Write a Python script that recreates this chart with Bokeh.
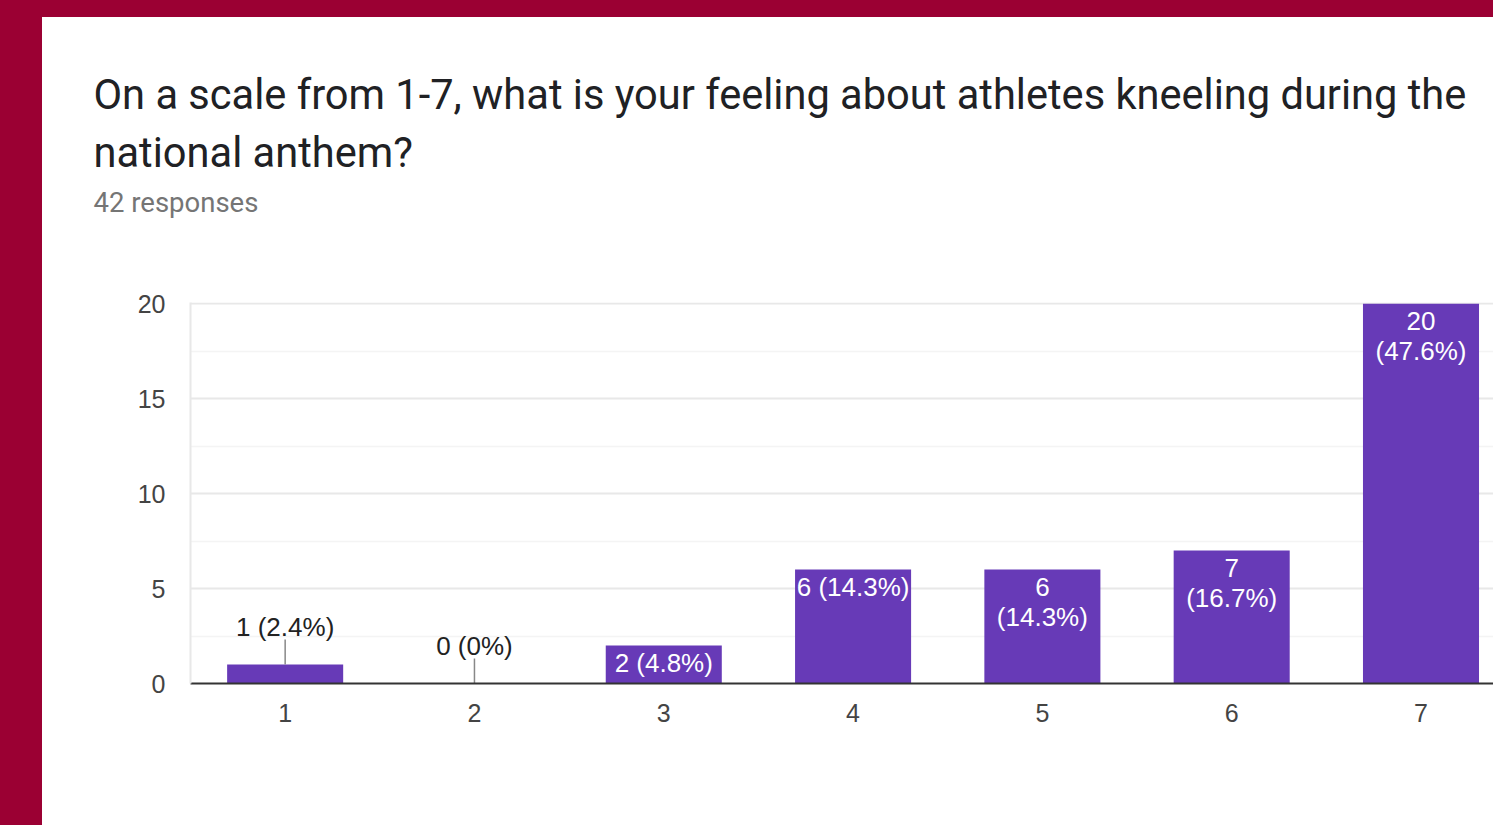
from bokeh.plotting import figure
from bokeh.models import Range1d, FixedTicker, Title, ColumnDataSource
from bokeh.core.properties import value
from bokeh.embed import file_html
from bokeh.resources import INLINE

# ---- data ----
categories = ["1", "2", "3", "4", "5", "6", "7"]
counts = [1, 0, 2, 6, 6, 7, 20]
percents = ["2.4%", "0%", "4.8%", "14.3%", "14.3%", "16.7%", "47.6%"]
placement = ["above", "above", "inside", "inside", "wrap", "wrap", "wrap"]
y_ticks = [0, 5, 10, 15, 20]
title_line1 = "On a scale from 1-7, what is your feeling about athletes kneeling during the"
title_line2 = "national anthem?"
subtitle = "42 responses"

BAR = "#673ab7"
FRAME_H = 381  # px of plot frame height
PX_PER_UNIT = FRAME_H / 20.0

xs = list(range(1, len(categories) + 1))

p = figure(width=1451, height=808, x_range=Range1d(0.5, 7.383), y_range=Range1d(0, 20.06),
           output_backend="svg", toolbar_location=None,
           min_border_left=148, min_border_right=0, min_border_bottom=142, min_border_top=285,
           outline_line_color=None, border_fill_color="white", background_fill_color="white")
p.margin = (17, 0, 0, 42)
p.styles = {"background-color": "white"}

# titles (outermost = p.title; added ones stack from the plot outward)
p.title.text = title_line1
p.title.text_font = "Roboto"
p.title.text_font_size = "41.6px"
p.title.text_font_style = "normal"
p.title.text_color = "#202124"
p.title.offset = -97
p.title.standoff = 0
spacer = Title(text=" ", text_font_size="1px", standoff=81)
ts = Title(text=subtitle, text_font="Roboto", text_font_size="27.5px", text_font_style="normal",
           text_color="#757575", offset=-97, standoff=0)
t2 = Title(text=title_line2, text_font="Roboto", text_font_size="41.6px", text_font_style="normal",
           text_color="#202124", offset=-97, standoff=14)
p.add_layout(spacer, "above")
p.add_layout(ts, "above")
p.add_layout(t2, "above")

# bars
src = ColumnDataSource(dict(x=xs, top=counts))
p.vbar(x="x", top="top", width=0.613, bottom=0, source=src, fill_color=BAR, line_color=None)

# labels
lx, ly, ltxt, loff, lcol = [], [], [], [], []
seg_x, seg_y0, seg_y1 = [], [], []
for x, c, pc, pl in zip(xs, counts, percents, placement):
    if pl == "above":
        lx.append(x); ly.append(c); ltxt.append(f"{c} ({pc})"); loff.append(-38); lcol.append("#222222")
        seg_x.append(x); seg_y0.append(c); seg_y1.append(c + 25 / PX_PER_UNIT)
    elif pl == "inside":
        lx.append(x); ly.append(c); ltxt.append(f"{c} ({pc})"); loff.append(17); lcol.append("white")
    else:
        lx.append(x); ly.append(c); ltxt.append(f"{c}"); loff.append(17); lcol.append("white")
        lx.append(x); ly.append(c); ltxt.append(f"({pc})"); loff.append(47); lcol.append("white")

p.segment(x0=seg_x, y0=seg_y0, x1=seg_x, y1=seg_y1, line_color="#888888", line_width=1.5)
lsrc = ColumnDataSource(dict(x=lx, y=ly, text=ltxt, off=loff, col=lcol))
p.text(x="x", y="y", text="text", y_offset="off", text_color="col", source=lsrc,
       text_font=value("Liberation Sans"), text_font_size="26px",
       text_align="center", text_baseline="middle")

# axes
p.xaxis.ticker = FixedTicker(ticks=xs)
p.xaxis.major_label_overrides = {i: c for i, c in zip(xs, categories)}
p.xaxis.major_tick_line_color = None
p.xaxis.minor_tick_line_color = None
p.xaxis.axis_line_color = "#333333"
p.xaxis.axis_line_width = 2
p.xaxis.major_label_text_font = "Liberation Sans"
p.xaxis.major_label_text_font_size = "25px"
p.xaxis.major_label_text_color = "#444444"
p.xaxis.major_label_standoff = 14

p.yaxis.ticker = FixedTicker(ticks=y_ticks, minor_ticks=[2.5, 7.5, 12.5, 17.5])
p.yaxis.major_tick_line_color = None
p.yaxis.minor_tick_line_color = None
p.yaxis.axis_line_color = "#e8e8e8"
p.yaxis.axis_line_width = 2
p.yaxis.major_label_text_font = "Liberation Sans"
p.yaxis.major_label_text_font_size = "25px"
p.yaxis.major_label_text_color = "#444444"
p.yaxis.major_label_standoff = 19

p.xgrid.grid_line_color = None
p.ygrid.grid_line_color = "#e8e8e8"
p.ygrid.grid_line_width = 2
p.ygrid.minor_grid_line_color = "#f4f4f4"
p.ygrid.minor_grid_line_width = 1.5

html = file_html(p, INLINE)
html = html.replace("<head>", "<head><style>html,body{margin:0;padding:0;background:#9b0033;}</style>", 1)
open("out.html", "w").write(html)
